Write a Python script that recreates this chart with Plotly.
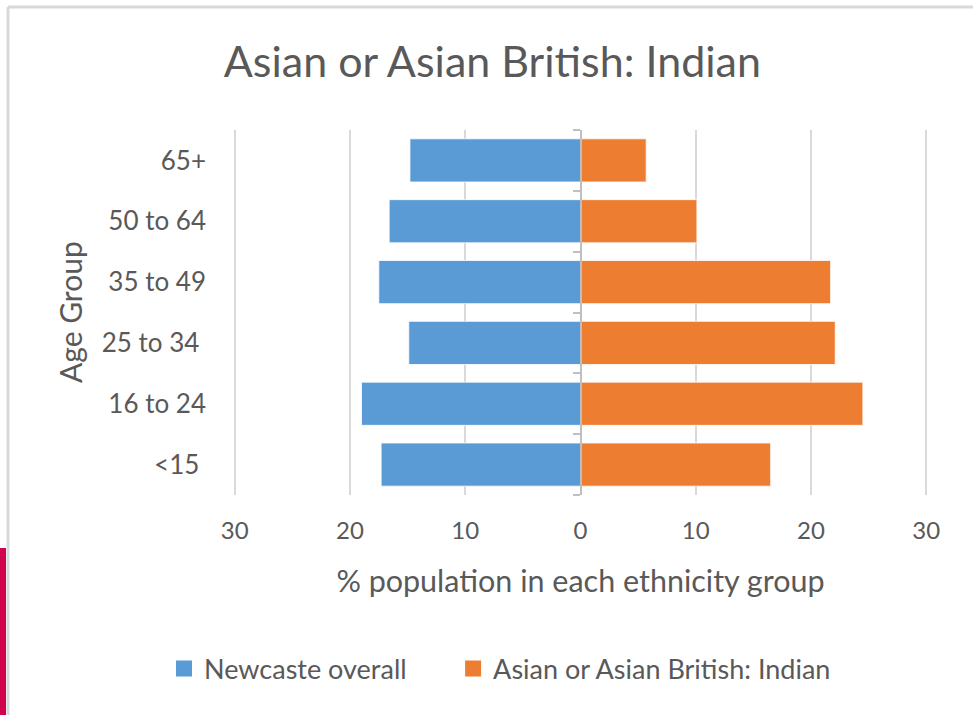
import plotly.graph_objects as go

categories = ["<15 ", "16 to 24", "25 to 34 ", "35 to 49", "50 to 64", "65+"]
newcastle_overall = [17.3, 19.0, 14.9, 17.5, 16.6, 14.8]
asian_indian = [16.5, 24.5, 22.1, 21.7, 10.1, 5.7]
x_tickvals = [-30, -20, -10, 0, 10, 20, 30]
x_ticktext = ["30", "20", "10", "0", "10", "20", "30"]
series_names = ["Newcaste overall", "Asian or Asian British: Indian"]
series_colors = ["#5B9BD5", "#ED7D31"]

FONT = "Lato"
TXT = "#595959"
GRID = "#D9D9D9"

W, H = 973, 715
L, R, T, B = 233, 45, 130, 220
pw, ph = W - L - R, H - T - B

def px(x):
    return (x - L) / pw

def py(y):
    return (H - B - y) / ph

fig = go.Figure()
fig.add_trace(go.Bar(
    y=categories, x=[-v for v in newcastle_overall], orientation="h",
    name=series_names[0], showlegend=False,
    marker=dict(color=series_colors[0], line=dict(color="#FFFFFF", width=0.8)),
    customdata=newcastle_overall, hovertemplate="%{y}: %{customdata}<extra></extra>",
))
fig.add_trace(go.Bar(
    y=categories, x=asian_indian, orientation="h", yaxis="y2",
    name=series_names[1], showlegend=False,
    marker=dict(color=series_colors[1], line=dict(color="#FFFFFF", width=0.8)),
))
# legend entries (square swatches); trailing no-break spaces widen the gap between entries
legend_pad = ["\u00a0" * 6, ""]
for nm, col, pad in zip(series_names, series_colors, legend_pad):
    fig.add_trace(go.Scatter(x=[None], y=[None], mode="markers", name=nm + pad,
                             marker=dict(symbol="square", size=16, color=col)))

fig.update_layout(
    width=W, height=H,
    margin=dict(l=L, r=R, t=T, b=B),
    paper_bgcolor="white", plot_bgcolor="white",
    barmode="relative", bargap=0.29,
    font=dict(family=FONT, color=TXT),
    title=dict(text="Asian or Asian British: Indian", x=0.506, xref="container", xanchor="center",
               y=1 - 62 / H, yref="container", yanchor="middle",
               font=dict(size=43, color=TXT, family=FONT)),
    xaxis=dict(range=[-30.15, 30.15], tickvals=x_tickvals, ticktext=x_ticktext,
               showgrid=True, gridcolor=GRID, gridwidth=2, zeroline=False,
               showline=False, ticks="", tickfont=dict(size=24, color=TXT),
               ticklabelstandoff=19,
               title=dict(text="% population in each ethnicity group", font=dict(size=30.5, color=TXT), standoff=27)),
    yaxis=dict(type="category", categoryorder="array", categoryarray=categories, range=[-0.5, 5.5],
               showgrid=False, zeroline=False, showline=False, ticks="",
               tickfont=dict(size=26, color=TXT), ticklabelstandoff=26),
    yaxis2=dict(type="category", categoryorder="array", categoryarray=categories, range=[-0.5, 5.5],
                overlaying="y", anchor="free", position=0.5, side="left",
                showline=True, linecolor="#BFBFBF", linewidth=2,
                ticks="outside", tickson="boundaries", ticklen=7, tickwidth=2, tickcolor="#BFBFBF",
                showticklabels=False, showgrid=False, zeroline=False),
    legend=dict(orientation="h", x=500 / W, xref="container", xanchor="center",
                y=1 - 669 / H, yref="container", yanchor="middle",
                font=dict(size=27, color=TXT), itemwidth=30, traceorder="normal"),
    annotations=[dict(text="Age Group", textangle=-90, x=px(70), y=py(312), xref="paper", yref="paper",
                      xanchor="center", yanchor="middle",
                      showarrow=False, font=dict(size=30, color=TXT))],
    shapes=[
        dict(type="line", xref="paper", yref="paper", x0=px(8), x1=px(973), y0=py(7), y1=py(7),
             line=dict(color=GRID, width=3)),
        dict(type="line", xref="paper", yref="paper", x0=px(8), x1=px(8), y0=py(7), y1=py(715),
             line=dict(color=GRID, width=3)),
        dict(type="rect", xref="paper", yref="paper", x0=px(0), x1=px(6), y0=py(548), y1=py(715),
             line=dict(width=0), fillcolor="#D1034F"),
    ],
)

fig.write_html("out.html")
